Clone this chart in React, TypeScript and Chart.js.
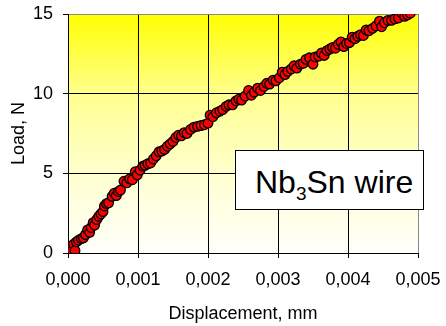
import React, { useEffect, useRef } from "react";
import { Chart, registerables } from "chart.js";

Chart.register(...registerables);

// Displacement, mm
const displacement: number[] = [
  0.00000, 0.00002, 0.00003, 0.00006, 0.00008, 0.00010, 0.00012, 0.00015, 0.00019, 0.00022,
  0.00025, 0.00028, 0.00031, 0.00033, 0.00036, 0.00038, 0.00041, 0.00044, 0.00047, 0.00050,
  0.00052, 0.00055, 0.00058, 0.00063, 0.00066, 0.00069, 0.00072, 0.00075, 0.00080, 0.00084,
  0.00088, 0.00092, 0.00096, 0.00099, 0.00103, 0.00107, 0.00110, 0.00114, 0.00118, 0.00122,
  0.00126, 0.00130, 0.00134, 0.00138, 0.00142, 0.00146, 0.00150, 0.00154, 0.00158, 0.00162,
  0.00166, 0.00170, 0.00175, 0.00180, 0.00185, 0.00190, 0.00195, 0.00200, 0.00203, 0.00207,
  0.00212, 0.00217, 0.00221, 0.00226, 0.00230, 0.00235, 0.00240, 0.00244, 0.00248, 0.00253,
  0.00258, 0.00262, 0.00266, 0.00271, 0.00275, 0.00280, 0.00284, 0.00288, 0.00293, 0.00297,
  0.00302, 0.00306, 0.00310, 0.00314, 0.00319, 0.00323, 0.00327, 0.00332, 0.00336, 0.00340,
  0.00345, 0.00350, 0.00353, 0.00358, 0.00362, 0.00366, 0.00370, 0.00374, 0.00378, 0.00382,
  0.00386, 0.00390, 0.00394, 0.00398, 0.00402, 0.00406, 0.00410, 0.00414, 0.00418, 0.00422,
  0.00426, 0.00430, 0.00435, 0.00440, 0.00445, 0.00448, 0.00452, 0.00457, 0.00462, 0.00467,
  0.00472, 0.00477, 0.00481, 0.00485, 0.00489,
];

// Load, N
const load: number[] = [
  0.10, 0.25, 0.40, 0.15, 0.55, 0.15, 0.70, 0.80, 0.90, 0.95,
  1.15, 1.45, 1.30, 1.60, 1.90, 1.75, 2.10, 2.30, 2.45, 2.60,
  2.95, 3.10, 3.15, 3.55, 3.75, 3.60, 3.85, 3.95, 4.50, 4.40,
  4.65, 4.60, 5.10, 4.90, 5.20, 5.45, 5.50, 5.60, 5.65, 5.90,
  6.10, 6.35, 6.40, 6.50, 6.70, 6.85, 7.00, 7.25, 7.40, 7.35,
  7.55, 7.50, 7.75, 7.90, 7.95, 8.00, 8.05, 8.15, 8.65, 8.55,
  8.80, 8.90, 9.00, 9.20, 9.30, 9.30, 9.55, 9.65, 9.60, 9.85,
  10.20, 9.90, 10.10, 10.35, 10.20, 10.45, 10.65, 10.60, 10.85, 10.80,
  11.00, 11.35, 11.20, 11.40, 11.55, 11.75, 11.60, 11.85, 11.90, 12.15,
  12.25, 11.85, 12.30, 12.35, 12.55, 12.40, 12.70, 12.80, 12.90, 12.85,
  13.10, 13.25, 12.95, 13.15, 13.20, 13.55, 13.45, 13.60, 13.70, 13.65,
  14.00, 13.95, 14.10, 14.25, 14.55, 14.20, 14.45, 14.60, 14.60, 14.70,
  14.75, 15.05, 14.85, 14.95, 15.05,
];

const xMin = 0;
const xMax = 0.005;
const xStep = 0.001;
const yMin = 0;
const yMax = 15;
const yStep = 5;

const xTitle = "Displacement, mm";
const yTitle = "Load, N";

const FONT = "'Liberation Sans', Arial, sans-serif";

const gradientBg = {
  id: "gradientBg",
  beforeDraw(chart: any) {
    const { ctx, chartArea } = chart;
    if (!chartArea) return;
    const g = ctx.createLinearGradient(0, chartArea.top, 0, chartArea.bottom);
    g.addColorStop(0, "#FFFF00");
    g.addColorStop(0.33, "#FFFF8C");
    g.addColorStop(0.5, "#FFFFB0");
    g.addColorStop(0.75, "#FFFFDC");
    g.addColorStop(1, "#FFFFFA");
    ctx.save();
    ctx.fillStyle = g;
    ctx.fillRect(chartArea.left, chartArea.top, chartArea.right - chartArea.left, chartArea.bottom - chartArea.top);
    ctx.restore();
  },
};

export default function App() {
  const canvasRef = useRef<HTMLCanvasElement | null>(null);

  useEffect(() => {
    document.body.style.margin = "0";
    const canvas = canvasRef.current;
    if (!canvas) return;
    const points = displacement.map((x, i) => ({ x, y: load[i] }));
    const chart = new Chart(canvas, {
      type: "scatter",
      data: {
        datasets: [
          {
            data: points,
            pointRadius: 4.8,
            pointHoverRadius: 4.8,
            pointBackgroundColor: "#FF0000",
            pointBorderColor: "#000000",
            pointBorderWidth: 1.3,
          },
        ],
      },
      options: {
        animation: false,
        responsive: false,
        devicePixelRatio: 1,
        layout: { padding: { left: 0, top: 14, right: 28, bottom: 0 } },
        plugins: {
          legend: { display: false },
          tooltip: { enabled: false },
        },
        scales: {
          x: {
            type: "linear",
            min: xMin,
            max: xMax,
            afterFit(scale: any) {
              scale.height = 73;
              scale.paddingLeft = 0;
              scale.paddingRight = 0;
            },
            ticks: {
              stepSize: xStep,
              color: "#000",
              padding: 11,
              font: { family: FONT, size: 18 },
              callback: (v: any) => Number(v).toFixed(3).replace(".", ","),
            },
            grid: {
              color: (c: any) => (c.tick && Math.abs(c.tick.value - xMax) < 1e-9 ? "#8a8a8a" : "#000"),
              tickColor: "#000",
              tickLength: 5,
              lineWidth: 1,
            },
            border: { color: "#000", width: 1 },
            title: {
              display: true,
              text: xTitle,
              color: "#000",
              font: { family: FONT, size: 18 },
              padding: { top: 0, bottom: 1 },
            },
          },
          y: {
            type: "linear",
            min: yMin,
            max: yMax,
            afterFit(scale: any) {
              scale.width = 68;
              scale.paddingTop = 0;
              scale.paddingBottom = 0;
            },
            ticks: {
              stepSize: yStep,
              color: "#000",
              padding: 10,
              font: { family: FONT, size: 18 },
            },
            grid: {
              color: (c: any) => (c.tick && Math.abs(c.tick.value - yMax) < 1e-9 ? "#8a8a8a" : "#000"),
              tickColor: "#000",
              tickLength: 5,
              lineWidth: 1,
            },
            border: { color: "#000", width: 1 },
            title: {
              display: true,
              text: yTitle,
              color: "#000",
              font: { family: FONT, size: 18 },
              padding: { top: 8, bottom: 0 },
            },
          },
        },
      },
      plugins: [gradientBg],
    });
    return () => chart.destroy();
  }, []);

  return (
    <div style={{ position: "relative", width: 446, height: 326, background: "#fff" }}>
      <canvas ref={canvasRef} width={446} height={326} style={{ display: "block" }} />
      <div
        style={{
          position: "absolute",
          left: 235,
          top: 150,
          width: 187,
          height: 58,
          border: "1px solid #000",
          background: "#fff",
          fontFamily: FONT,
          color: "#000",
        }}
      >
        <span
          style={{
            position: "absolute",
            left: 19,
            top: 15,
            fontSize: 32,
            lineHeight: "32px",
            whiteSpace: "nowrap",
          }}
        >
          Nb
          <span style={{ fontSize: 19, position: "relative", top: 7 }}>3</span>
          Sn wire
        </span>
      </div>
    </div>
  );
}
